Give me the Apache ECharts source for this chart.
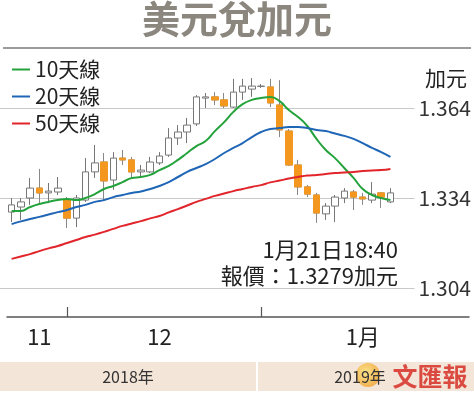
<!DOCTYPE html>
<html>
<head>
<meta charset="utf-8">
<script src="https://cdn.jsdelivr.net/npm/echarts@6/dist/echarts.min.js"></script>
<style>html,body{margin:0;padding:0;background:#fff}#c{width:474px;height:396px}</style>
</head>
<body>
<div id="c"></div>
<script>
// ---- data ----
const opens  = [1.3293,1.3310,1.3340,1.3373,1.3357,1.3360,1.3333,1.3273,1.3333,1.3427,
                1.3460,1.3400,1.3473,1.3467,1.3427,1.3427,1.3457,1.3483,1.3540,1.3560,
                1.3587,1.3673,1.3677,1.3667,1.3643,1.3693,1.3703,1.3712,1.3710,1.3650,
                1.3563,1.3450,1.3377,1.3350,1.3287,1.3313,1.3340,1.3360,1.3343,1.3333,
                1.3357,1.3327];
const closes = [1.3317,1.3327,1.3373,1.3357,1.3363,1.3373,1.3273,1.3340,1.3427,1.3457,
                1.3397,1.3473,1.3467,1.3427,1.3433,1.3460,1.3480,1.3540,1.3560,1.3583,
                1.3677,1.3677,1.3667,1.3647,1.3693,1.3713,1.3713,1.3713,1.3657,1.3567,
                1.3450,1.3377,1.3353,1.3290,1.3313,1.3343,1.3363,1.3343,1.3337,1.3353,
                1.3343,1.3357];
const lows   = [1.3260,1.3267,1.3317,1.3317,1.3323,1.3350,1.3240,1.3243,1.3327,1.3407,
                1.3333,1.3367,1.3450,1.3407,1.3410,1.3423,1.3450,1.3477,1.3517,1.3523,
                1.3580,1.3640,1.3650,1.3640,1.3640,1.3667,1.3677,1.3707,1.3643,1.3543,
                1.3447,1.3350,1.3343,1.3257,1.3267,1.3260,1.3323,1.3300,1.3317,1.3323,
                1.3307,1.3323];
const highs  = [1.3340,1.3340,1.3407,1.3437,1.3390,1.3410,1.3343,1.3350,1.3473,1.3517,
                1.3490,1.3493,1.3500,1.3477,1.3450,1.3477,1.3493,1.3573,1.3583,1.3607,
                1.3683,1.3690,1.3693,1.3690,1.3737,1.3737,1.3740,1.3720,1.3737,1.3733,
                1.3570,1.3467,1.3383,1.3357,1.3323,1.3350,1.3373,1.3367,1.3357,1.3393,
                1.3360,1.3373];
const ma10 = [1.3297,1.3297,1.3310,1.3320,1.3327,1.3333,1.3337,1.3333,1.3340,1.3353,
              1.3370,1.3380,1.3393,1.3407,1.3410,1.3417,1.3433,1.3447,1.3467,1.3490,
              1.3513,1.3530,1.3563,1.3593,1.3627,1.3653,1.3667,1.3673,1.3677,1.3663,
              1.3633,1.3610,1.3580,1.3537,1.3500,1.3473,1.3440,1.3407,1.3370,1.3350,
              1.3340,1.3333];
const ma20 = [1.3253,1.3262,1.3270,1.3277,1.3285,1.3293,1.3300,1.3310,1.3317,1.3327,
              1.3333,1.3343,1.3350,1.3357,1.3362,1.3370,1.3380,1.3393,1.3410,1.3427,
              1.3440,1.3453,1.3470,1.3490,1.3507,1.3523,1.3543,1.3560,1.3570,1.3573,
              1.3577,1.3577,1.3573,1.3567,1.3563,1.3555,1.3547,1.3537,1.3523,1.3507,
              1.3493,1.3477];
const ma50 = [1.3137,1.3145,1.3153,1.3163,1.3172,1.3180,1.3190,1.3200,1.3210,1.3218,
              1.3227,1.3237,1.3247,1.3255,1.3263,1.3272,1.3280,1.3292,1.3303,1.3315,
              1.3327,1.3337,1.3347,1.3355,1.3363,1.3370,1.3377,1.3383,1.3392,1.3398,
              1.3405,1.3410,1.3415,1.3417,1.3420,1.3423,1.3425,1.3427,1.3430,1.3432,
              1.3433,1.3437];
const seriesNames = ['10天線','20天線','50天線'];
const yTicks = [1.304, 1.334, 1.364];
const monthLabels = ['11','12','1月'];
const monthLabelIdx = [3, 16, 38];
const monthTickIdx = [6, 27];
const slotCount = 50;
const yearLabels = ['2018年','2019年'];
const unitLabel = '加元';
const noteTime = '1月21日18:40';
const notePrice = '報價：1.3279加元';
const titleText = '美元兌加元';

// ---- build ----
const categories = [];
for (let i = 0; i < slotCount; i++) {
  const k = monthLabelIdx.indexOf(i);
  categories.push(k >= 0 ? monthLabels[k] : ' '.repeat(i % 7 + 1) + i);
}
const candleData = opens.map((o, i) => [o, closes[i], lows[i], highs[i]]);
const bodyData = opens.map((o, i) => closes[i] < o ? [o, closes[i], closes[i], o] : ['-', '-', '-', '-']);

const NARROW = '"Liberation Sans Narrow", "Noto Sans CJK TC", sans-serif';
const CJK = '"Noto Sans CJK TC", sans-serif';
const ORANGE = '#f3971f';

const chart = echarts.init(document.getElementById('c'), null, {renderer: 'canvas'});
const yMin = yTicks[0], yMax = yTicks[yTicks.length - 1], yInt = yTicks[1] - yTicks[0];

chart.setOption({
  backgroundColor: '#fff',
  animation: false,
  legend: {
    data: seriesNames,
    orient: 'vertical',
    left: 7, top: 54,
    icon: 'rect', itemWidth: 18, itemHeight: 2, itemGap: 6,
    textStyle: {fontSize: 21, fontFamily: NARROW, color: '#222', lineHeight: 21}
  },
  grid: [
    {left: 7, right: 5, top: 108, height: 180},
    {left: 0, right: 53, top: 108, height: 180}
  ],
  xAxis: [
    {
      type: 'category', gridIndex: 0, data: categories, boundaryGap: true,
      offset: 29,
      axisLine: {show: true, lineStyle: {color: '#555', width: 1.5}},
      axisTick: {show: true, inside: true, length: 10, alignWithLabel: true,
                 interval: (idx) => monthTickIdx.includes(idx),
                 lineStyle: {color: '#555', width: 1.2}},
      axisLabel: {interval: (idx) => monthLabelIdx.includes(idx), margin: 9,
                  fontSize: 22, fontFamily: NARROW, color: '#222'},
      splitLine: {show: false}
    },
    {type: 'category', gridIndex: 1, data: categories, show: false}
  ],
  yAxis: [
    {type: 'value', gridIndex: 0, min: yMin, max: yMax, interval: yInt, show: false,
     splitLine: {show: false}},
    {type: 'value', gridIndex: 1, position: 'right', min: yMin, max: yMax, interval: yInt,
     axisLine: {show: false}, axisTick: {show: false},
     splitLine: {show: true, lineStyle: {color: '#c9c9c9', width: 1}},
     axisLabel: {margin: 4, fontSize: 21, fontFamily: NARROW, color: '#333',
                 formatter: (v) => v.toFixed(3)}}
  ],
  series: [
    {
      type: 'candlestick', xAxisIndex: 0, yAxisIndex: 0, data: candleData,
      barWidth: 7, clip: false, z: 2,
      itemStyle: {color: '#fff', color0: ORANGE, borderColor: '#777', borderColor0: '#888', borderWidth: 1}
    },
    {
      type: 'candlestick', xAxisIndex: 0, yAxisIndex: 0, data: bodyData,
      barWidth: 7, clip: false, z: 3,
      itemStyle: {color: ORANGE, color0: ORANGE, borderColor: ORANGE, borderColor0: ORANGE, borderWidth: 1}
    },
    {name: seriesNames[0], type: 'line', data: ma10, showSymbol: false, smooth: true, clip: false, z: 5,
     color: '#24a23b', lineStyle: {width: 2, color: '#24a23b'}},
    {name: seriesNames[1], type: 'line', data: ma20, showSymbol: false, smooth: true, clip: false, z: 5,
     color: '#1f66b6', lineStyle: {width: 2, color: '#1f66b6'}},
    {name: seriesNames[2], type: 'line', data: ma50, showSymbol: false, smooth: true, clip: false, z: 5,
     color: '#e1252b', lineStyle: {width: 2, color: '#e1252b'}}
  ],
  graphic: [
    {type: 'text', left: 'center', top: 0, style: {text: titleText, fontSize: 38, fontWeight: 'bold',
      fontFamily: CJK, fill: '#8b867e'}},
    {type: 'line', shape: {x1: 3, y1: 48, x2: 471, y2: 48}, style: {stroke: '#9b9b9b', lineWidth: 2}},
    {type: 'text', x: 425, y: 78, style: {text: unitLabel, fontSize: 21, fontFamily: CJK, fill: '#222',
      textAlign: 'left', textVerticalAlign: 'middle'}},
    {type: 'text', x: 398, y: 250, style: {text: noteTime, fontSize: 22, fontFamily: NARROW, fill: '#222',
      textAlign: 'right', textVerticalAlign: 'middle'}},
    {type: 'text', x: 398, y: 276, style: {text: notePrice, fontSize: 22, fontFamily: NARROW, fill: '#222',
      textAlign: 'right', textVerticalAlign: 'middle'}},
    {type: 'rect', shape: {x: 0, y: 362, width: 474, height: 29}, style: {fill: '#f4e5d9'}},
    {type: 'rect', shape: {x: 256, y: 362, width: 2, height: 29}, style: {fill: '#ffffff'}},
    {type: 'text', x: 128, y: 377, style: {text: yearLabels[0], fontSize: 16, fontFamily: NARROW, fill: '#333',
      textAlign: 'center', textVerticalAlign: 'middle'}},
    {type: 'circle', shape: {cx: 368, cy: 375, r: 12}, style: {fill: new echarts.graphic.RadialGradient(0.4, 0.4, 0.7,
      [{offset: 0, color: '#fde27a'}, {offset: 1, color: '#f0a030'}]), opacity: 0.85}},
    {type: 'text', x: 360, y: 377, style: {text: yearLabels[1], fontSize: 16, fontFamily: NARROW, fill: '#333',
      textAlign: 'center', textVerticalAlign: 'middle'}},
    {type: 'text', x: 430, y: 376, style: {text: '文匯報', fontSize: 25, fontWeight: 'bold', fontFamily: CJK,
      fill: '#d8392f', textAlign: 'center', textVerticalAlign: 'middle', opacity: 0.9}}
  ]
});
</script>
</body>
</html>
